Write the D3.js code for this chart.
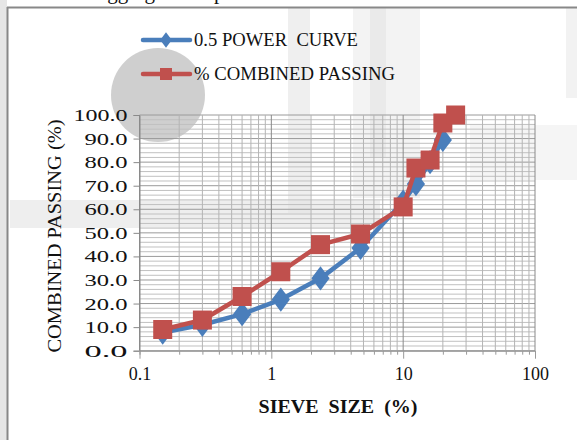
<!DOCTYPE html>
<html><head><meta charset="utf-8">
<script src="https://cdn.jsdelivr.net/npm/d3@7/dist/d3.min.js"></script>
<style>body{margin:0;background:#fff}svg{display:block}</style>
</head><body><div id="c"></div>
<script>
const sieveRed = [0.15, 0.3, 0.6, 1.18, 2.36, 4.75, 10, 12.5, 16, 20, 25];
const combinedPassing = [9.0, 13.0, 23.0, 33.5, 45.0, 49.5, 61.0, 77.5, 80.9, 96.6, 100.0];
const sieveBlue = [0.15, 0.3, 0.6, 1.18, 2.36, 4.75, 10, 12.5, 16, 20];
const powerCurve = [7.7, 11.0, 15.5, 21.7, 30.7, 43.6, 63.2, 70.7, 80.0, 89.4];
const yTicks = [0,10,20,30,40,50,60,70,80,90,100];
const xTicks = [0.1, 1, 10, 100];
const xTickLabels = ["0.1", "1", "10", "100"];
const seriesNames = ["0.5 POWER  CURVE", "% COMBINED PASSING"];

const W = 577, H = 440;
const svg = d3.select("#c").append("svg").attr("width", W).attr("height", H);
const serif = "'Liberation Serif','Times New Roman',serif";

// watermark-like background artifacts
const bg = svg.append("g");
bg.append("rect").attr("x",0).attr("y",0).attr("width",7).attr("height",H).attr("fill","#e6e6e6");
bg.append("rect").attr("x",288).attr("y",8).attr("width",22).attr("height",205).attr("fill","#e4e4e4").attr("opacity",0.6);
bg.append("rect").attr("x",353).attr("y",8).attr("width",67).attr("height",190).attr("fill","#eeeeee").attr("opacity",0.7);
bg.append("rect").attr("x",370).attr("y",8).attr("width",16).attr("height",150).attr("fill","#e2e2e2").attr("opacity",0.5);
bg.append("rect").attr("x",10).attr("y",200).attr("width",370).attr("height",28).attr("fill","#e2e2e2").attr("opacity",0.6);
bg.append("rect").attr("x",470).attr("y",125).attr("width",107).attr("height",55).attr("fill","#eeeeee").attr("opacity",0.6);
bg.append("rect").attr("x",566).attr("y",8).attr("width",11).attr("height",90).attr("fill","#f2f2f2");
bg.append("circle").attr("cx",158).attr("cy",95).attr("r",47).attr("fill","#cfcfcf");

// top cut-off caption
svg.append("text").attr("x",92).attr("y",-1).attr("font-family",serif).attr("font-size",21)
  .attr("fill","#111").text("Aggregate Proportion of the Mix");

// frame
svg.append("line").attr("x1",7).attr("x2",W).attr("y1",7.5).attr("y2",7.5).attr("stroke","#888").attr("stroke-width",2);
svg.append("line").attr("x1",7.5).attr("x2",7.5).attr("y1",7).attr("y2",H).attr("stroke","#888").attr("stroke-width",2);

const x = d3.scaleLog().domain([0.1, 100]).range([139.5, 535]);
const y = d3.scaleLinear().domain([0, 100]).range([350.7, 115]);

const g = svg.append("g");
const yMinor = d3.range(0, 101, 2);
g.selectAll(".hm").data(yMinor).enter().append("line")
  .attr("x1", x(0.1)).attr("x2", x(100)).attr("y1", d=>y(d)).attr("y2", d=>y(d))
  .attr("stroke", d => d%10===0 ? "#9a9a9a" : "#c0c0c0").attr("stroke-width",1);
const xAll = [];
[0.1,1,10].forEach(b => { for (let k=1;k<10;k++) xAll.push(b*k); });
xAll.push(100);
g.selectAll(".vm").data(xAll).enter().append("line")
  .attr("x1", d=>x(d)).attr("x2", d=>x(d)).attr("y1", y(100)).attr("y2", y(0))
  .attr("stroke", d => xTicks.includes(d) ? "#8a8a8a" : "#b4b4b4").attr("stroke-width",1);

// axes
const yAxis = d3.axisLeft(y).tickValues(yTicks).tickFormat(d3.format(".1f")).tickSize(6).tickPadding(6);
const ya = svg.append("g").attr("transform",`translate(${x(0.1)},0)`).call(yAxis);
ya.select(".domain").attr("stroke","#8a8a8a");
ya.selectAll(".tick line").attr("stroke","#8a8a8a");
ya.selectAll("text").attr("font-family",serif).attr("font-size",17).attr("fill","#111")
  .attr("textLength", d => d===100 ? 54 : 43).attr("lengthAdjust","spacingAndGlyphs");

const xAxis = d3.axisBottom(x).tickValues(xAll).tickFormat(d => { const i = xTicks.indexOf(d); return i>=0 ? xTickLabels[i] : ""; })
  .tickSize(4).tickPadding(13);
const xa = svg.append("g").attr("transform",`translate(0,${y(0)})`).call(xAxis);
xa.select(".domain").attr("stroke","#8a8a8a");
xa.selectAll(".tick line").attr("stroke","#9a9a9a").attr("y2", d => xTicks.includes(d) ? 8 : 4);
xa.selectAll("text").attr("font-family",serif).attr("font-size",18).attr("fill","#111");

// axis titles
svg.append("text").attr("transform","translate(61,236) rotate(-90)").attr("text-anchor","middle")
  .attr("font-family",serif).attr("font-size",19).attr("fill","#111")
  .attr("textLength",233).attr("lengthAdjust","spacingAndGlyphs")
  .text("COMBINED PASSING (%)");
svg.append("text").attr("x",338).attr("y",413).attr("text-anchor","middle")
  .attr("font-family",serif).attr("font-size",18).attr("font-weight","bold").attr("fill","#111")
  .attr("textLength",159).attr("lengthAdjust","spacingAndGlyphs")
  .style("white-space","pre").text("SIEVE  SIZE  (%)");

const blue = "#4A7EBB", red = "#C0504D";
const line = d3.line().x(d=>x(d[0])).y(d=>y(d[1]));
const blueData = sieveBlue.map((s,i)=>[s, powerCurve[i]]);
const redData = sieveRed.map((s,i)=>[s, combinedPassing[i]]);

svg.append("path").datum(blueData).attr("d", line).attr("fill","none").attr("stroke",blue).attr("stroke-width",4.5).attr("stroke-linejoin","round");
const diamond = d3.symbol().type(d3.symbolDiamond).size(170);
svg.selectAll(".bd").data(blueData).enter().append("path")
  .attr("d", diamond).attr("transform", d=>`translate(${x(d[0])},${y(d[1])}) scale(1.3,1)`).attr("fill",blue);

svg.append("path").datum(redData).attr("d", line).attr("fill","none").attr("stroke",red).attr("stroke-width",4.5).attr("stroke-linejoin","round");
svg.selectAll(".rs").data(redData).enter().append("rect")
  .attr("x", d=>x(d[0])-9.5).attr("y", d=>y(d[1])-9.5).attr("width",19).attr("height",19).attr("fill",red);

// legend
const lg = svg.append("g");
const legW = [164, 201];
[[blue,40],[red,74]].forEach(([c,ly],i)=>{
  lg.append("line").attr("x1",143).attr("x2",190).attr("y1",ly).attr("y2",ly).attr("stroke",c).attr("stroke-width",4.5).attr("stroke-linecap","round");
  if (i===0) lg.append("path").attr("d", d3.symbol().type(d3.symbolDiamond).size(70)()).attr("transform",`translate(166,${ly}) scale(1.3,1)`).attr("fill",c);
  else lg.append("rect").attr("x",160).attr("y",ly-6).attr("width",12).attr("height",12).attr("fill",c);
  lg.append("text").attr("x",194).attr("y",ly+6).attr("font-family",serif).attr("font-size",18).attr("fill","#111")
    .attr("textLength",legW[i]).attr("lengthAdjust","spacingAndGlyphs")
    .style("white-space","pre").text(seriesNames[i]);
});
</script></body></html>
